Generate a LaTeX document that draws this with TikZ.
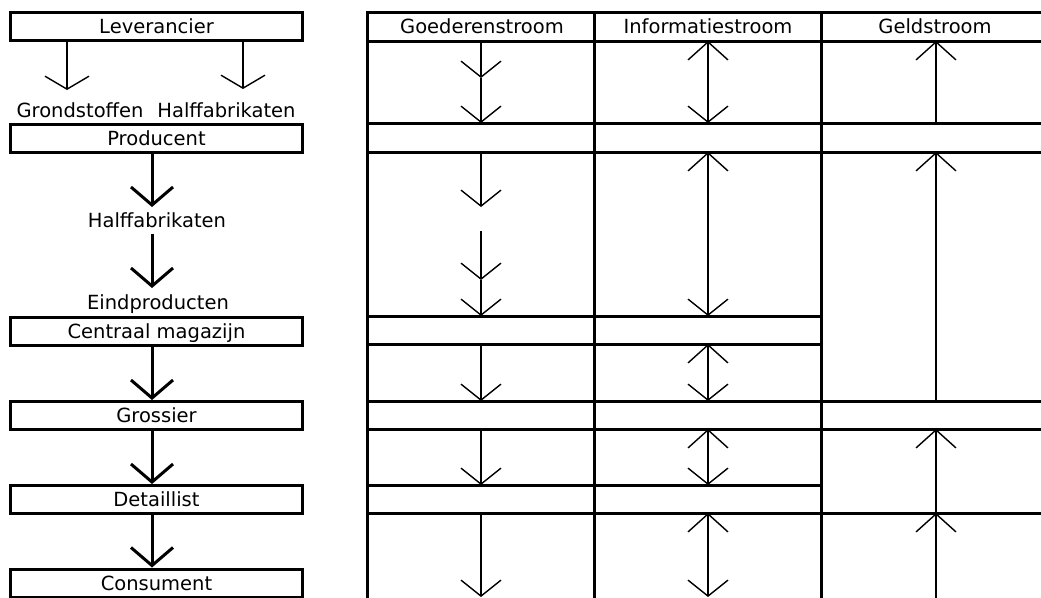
\documentclass[tikz,border=0pt]{standalone}
\usepackage{fontspec}
\newfontfamily\lblfont{DejaVu Sans}
\usetikzlibrary{arrows.meta}
\begin{document}
\begin{tikzpicture}[x=1pt,y=-1pt,
  txt/.style={font=\lblfont\fontsize{19.5}{22}\selectfont, inner sep=0pt, text height=14pt, text depth=0pt},
  stage/.style={txt, draw, line width=3pt, minimum width=292pt, minimum height=28pt},
  grid/.style={line width=3pt, line cap=rect},
  thinflow/.style={line width=1.4pt, -{Straight Barb[length=13pt,width=44pt]}},
  thickflow/.style={line width=3pt, -{Straight Barb[length=18pt,width=42pt]}},
  down/.style={line width=1.4pt, -{Straight Barb[length=16pt,width=40pt]}},
  up/.style={line width=1.4pt, {Straight Barb[length=18pt,width=40pt]}-},
  both/.style={line width=1.4pt, {Straight Barb[length=18pt,width=40pt]}-{Straight Barb[length=16pt,width=40pt]}}
]
\path[use as bounding box] (0,0) rectangle (1041,597);
\clip (0,0) rectangle (1041,597);
\fill[white] (0,0) rectangle (1041,597);

% ---- supply chain column ----
\node[stage] (lev)  at (156.5,26)    {Leverancier};
\node[stage] (prod) at (156.5,138)   {Producent};
\node[stage] (cm)   at (156.5,331)   {Centraal magazijn};
\node[stage] (gros) at (156.5,415.5) {Grossier};
\node[stage] (det)  at (156.5,499.5) {Detaillist};
\node[stage] (cons) at (156.5,583)   {Consument};

\node[txt] (grond) at (80,110)    {Grondstoffen};
\node[txt] (halfa) at (226.5,110) {Halffabrikaten};
\node[txt] (half)  at (157,220)   {Halffabrikaten};
\node[txt] (eind)  at (158,302.5) {Eindproducten};

\coordinate (g)   at (67,90);
\coordinate (h)   at (243,89);
\coordinate (p1)  at (152,207);
\coordinate (p2s) at (152,234);
\coordinate (p2)  at (152,288);

\draw[thinflow] (lev.south -| g) -- (g);
\draw[thinflow] (lev.south -| h) -- (h);
\draw[thickflow] (prod.south -| p1) -- (p1);
\draw[thickflow] (p2s) -- (p2);
\draw[thickflow] (cm.south -| p1) -- (gros.north -| p1);
\draw[thickflow] (gros.south -| p1) -- (det.north -| p1);
\draw[thickflow] (det.south -| p1) -- (cons.north -| p1);

% ---- flow table ----
\draw[grid] (367,12) -- (367,600);
\draw[grid] (594,12) -- (594,600);
\draw[grid] (821,12) -- (821,600);
\foreach \yy in {12,41,123,152,401,429,513}
  \draw[grid] (367,\yy) -- (1045,\yy);
\foreach \yy in {316,344,485}
  \draw[grid] (367,\yy) -- (821,\yy);

\node[txt] (hg) at (482,26) {Goederenstroom};
\node[txt] (hi) at (708,26) {Informatiestroom};
\node[txt] (hm) at (935,26) {Geldstroom};

% goods: downward
\draw[down] (481,41) -- (481,78);
\draw[down] (481,78) -- (481,123);
\draw[down] (481,152) -- (481,207);
\draw[down] (481,231) -- (481,280);
\draw[down] (481,280) -- (481,316);
\draw[down] (481,344) -- (481,401);
\draw[down] (481,429) -- (481,485);
\draw[down] (481,513) -- (481,597);

% information: both ways
\draw[both] (708,41) -- (708,123);
\draw[both] (708,152) -- (708,316);
\draw[both] (708,344) -- (708,401);
\draw[both] (708,429) -- (708,485);
\draw[both] (708,513) -- (708,597);

% money: upward
\draw[up] (936,41) -- (936,123);
\draw[up] (936,152) -- (936,401);
\draw[up] (936,429) -- (936,513);
\draw[up] (936,513) -- (936,600);
\end{tikzpicture}
\end{document}
